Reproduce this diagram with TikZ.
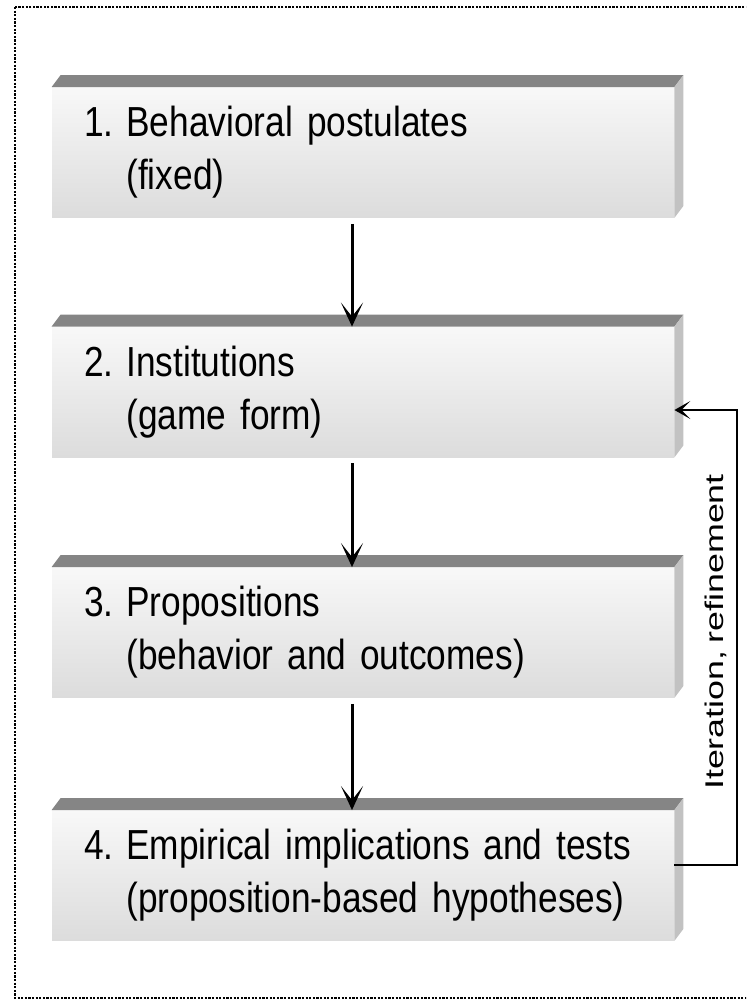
\documentclass[tikz,border=0pt]{standalone}
\usepackage{fontspec}
\setmainfont{Liberation Sans}
\newfontfamily\stagefont[FakeStretch=0.84,WordSpace=0.6]{Liberation Sans}
\newfontfamily\loopfont[FakeStretch=1.4,WordSpace=0.7]{Liberation Sans}
\usetikzlibrary{arrows.meta}

\definecolor{bevelTop}{HTML}{858585}
\definecolor{bevelSide}{HTML}{C2C2C2}
\definecolor{faceTop}{HTML}{F8F8F8}
\definecolor{faceBot}{HTML}{DCDCDC}

\newcommand{\stagetext}[3]{\begin{tabular}{@{}l@{\hspace{6.5pt}}l@{}}#1 & #2\\ & #3\end{tabular}}

\tikzset{
  stage/.style={rectangle, text width=279pt, minimum height=65pt, inner xsep=16pt, inner ysep=0pt,
    align=left, top color=faceTop, bottom color=faceBot, font=\stagefont\fontsize{21}{26.5}\selectfont},
  flow/.style={line width=1.5pt, -{Stealth[length=12pt,width=11pt,inset=7pt]}},
  back/.style={line width=1.2pt, -{Stealth[length=8pt,width=9pt,inset=4.5pt]}},
  looplabel/.style={rotate=90, anchor=base, inner sep=0pt, font=\loopfont\fontsize{12.8}{16}\selectfont},
}

\begin{document}
\begin{tikzpicture}[x=0.5pt,y=-0.5pt]
    \useasboundingbox (0,0) rectangle (746,1003);
    \clip (0,0) rectangle (746,1003);

    % frame
    \draw[line width=1.2pt, dash pattern=on 1.1pt off 0.7pt] (15,7) rectangle (780,998);

    % stages
    \node[stage] (s1) at (363,152.5) {\stagetext{1.}{Behavioral postulates}{(fixed)}};
    \node[stage] (s2) at (363,392) {\stagetext{2.}{Institutions}{(game form)}};
    \node[stage] (s3) at (363,632.5) {\stagetext{3.}{Propositions}{(behavior and outcomes)}};
    \node[stage] (s4) at (363,875.5) {\stagetext{4.}{Empirical implications and tests}{(proposition-based hypotheses)}};

    % bevels
    \foreach \s in {s1,s2,s3,s4} {
        \fill[bevelTop] (\s.north west) -- ++(9,-12) -- ([shift={(9,-12)}]\s.north east) -- (\s.north east) -- cycle;
        \fill[bevelSide] (\s.north east) -- ++(9,-12) -- ([shift={(9,-12)}]\s.south east) -- (\s.south east) -- cycle;
    }

    % arrows
    \foreach \a/\b in {s1/s2,s2/s3,s3/s4}
        \draw[flow] ([xshift=-5.5pt,yshift=-3pt]\a.south) -- ([xshift=-5.5pt]\b.north);

    % feedback loop
    \coordinate (turn) at (737,410);
    \draw[back] ([yshift=5.25pt]s4.east) -| (turn) -- (turn -| s2.east);
    \node[looplabel] (iter) at (723,632) {Iteration, refinement};

\end{tikzpicture}
\end{document}
